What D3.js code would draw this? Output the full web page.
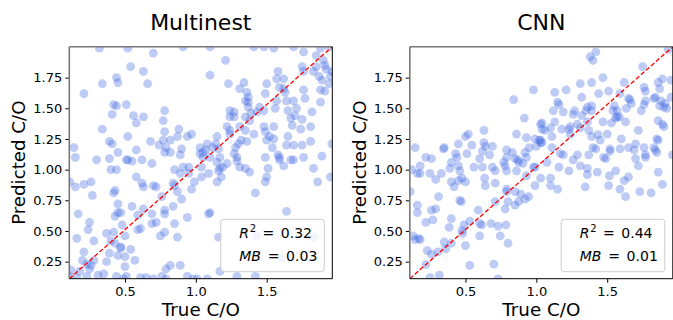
<!DOCTYPE html>
<html>
<head>
<meta charset="utf-8">
<script src="https://cdn.jsdelivr.net/npm/d3@7"></script>
<style>
  body { margin: 0; background: #fff; }
  svg { display: block; font-family: "DejaVu Sans", sans-serif; }
</style>
</head>
<body>
<svg width="673" height="320"></svg>
<script>
// [true C/O, predicted C/O]
const multinestPoints = [
  [0.32,1.99],[0.52,1.99],[0.70,1.95],[0.91,2.00],[1.10,2.00],[1.21,1.89],[0.54,1.84],[0.63,1.80],[0.44,1.75],[0.45,1.71],
  [0.34,1.70],[0.66,1.70],[0.21,1.62],[1.10,1.77],[0.42,1.53],[0.51,1.53],[0.41,1.45],[0.34,1.33],[0.78,1.48],[0.77,1.40],
  [0.63,1.43],[0.39,1.23],[0.41,1.21],[0.45,1.14],[0.30,1.08],[0.39,1.09],[0.40,1.00],[0.44,1.00],[0.51,1.08],[0.55,1.07],
  [0.62,1.08],[0.68,1.23],[0.69,1.05],[0.78,1.31],[0.77,1.24],[0.79,1.18],[0.82,1.24],[0.82,1.14],[0.88,1.33],[0.87,1.27],
  [0.90,1.17],[0.89,1.12],[0.94,1.27],[0.97,1.29],[0.95,1.02],[0.91,1.02],[0.95,0.97],[0.99,0.90],[1.03,1.13],[1.03,1.18],
  [1.05,1.10],[1.04,1.02],[1.05,1.14],[1.07,1.16],[1.08,1.21],[1.09,0.97],[1.10,1.10],[1.12,1.18],[1.14,1.21],[1.15,1.27],
  [1.15,1.06],[1.16,1.17],[1.17,1.10],[1.18,0.94],[1.22,1.35],[1.24,1.48],[1.24,1.43],[1.27,1.43],[1.24,1.29],[1.28,1.18],
  [1.29,1.10],[1.30,1.21],[1.31,1.02],[1.24,1.32],[1.31,1.35],[1.32,1.24],[1.35,1.43],[1.35,1.56],[1.37,1.51],[1.36,1.63],
  [1.37,1.55],[1.38,1.40],[1.39,1.46],[1.41,1.29],[1.35,1.32],[1.36,1.23],[1.43,1.47],[1.45,1.51],[1.48,1.48],[1.49,1.62],
  [1.50,1.70],[1.48,1.35],[1.49,1.31],[1.50,1.24],[1.52,1.27],[1.54,1.18],[1.55,1.25],[1.55,1.35],[1.56,1.50],[1.57,1.56],
  [1.58,1.80],[1.57,1.74],[1.59,1.67],[1.62,1.74],[1.62,1.66],[1.63,1.63],[1.64,1.56],[1.65,1.48],[1.67,1.42],[1.68,1.36],
  [1.69,1.56],[1.70,1.44],[1.71,1.50],[1.75,1.84],[1.76,1.80],[1.76,1.65],[1.77,1.58],[1.83,1.80],[1.85,1.84],[1.87,1.76],
  [1.89,1.73],[1.90,1.89],[1.91,1.85],[1.92,1.82],[1.94,1.70],[1.95,1.76],[1.96,1.80],[1.88,1.65],[1.91,1.64],[1.88,1.55],
  [1.82,1.47],[1.81,1.35],[1.75,1.41],[1.74,1.33],[1.75,1.20],[1.76,1.10],[1.64,1.20],[1.65,1.27],[1.67,1.08],[1.69,1.08],
  [1.59,1.10],[1.59,1.08],[1.58,1.12],[1.62,1.03],[1.49,1.10],[1.51,1.01],[1.50,0.94],[1.49,0.90],[1.42,0.81],[1.27,1.13],
  [1.29,1.07],[1.22,1.05],[1.19,1.02],[1.17,1.01],[1.16,0.99],[1.15,0.90],[1.10,0.65],[1.83,1.01],[1.86,0.90],[1.89,1.11],
  [1.95,0.94],[1.96,1.21],[1.35,1.01],[1.38,0.98],[1.81,1.23],[1.69,1.20],[1.64,0.66],
  [0.11,0.90],[0.15,0.86],[0.14,1.18],[0.15,1.10],[0.17,0.64],[0.16,0.44],[0.21,0.88],[0.26,0.90],[0.27,0.79],[0.25,0.57],
  [0.24,0.51],[0.28,0.42],[0.20,0.26],[0.23,0.23],[0.26,0.22],[0.25,0.19],[0.28,0.26],[0.21,0.33],[0.18,0.17],[0.12,0.18],
  [0.11,0.13],[0.16,0.12],[0.23,0.13],[0.31,0.14],[0.35,0.15],[0.37,0.25],[0.39,0.32],[0.40,0.42],[0.37,0.48],[0.42,0.49],
  [0.43,0.62],[0.45,0.65],[0.47,0.65],[0.45,0.72],[0.42,0.81],[0.43,0.83],[0.48,0.55],[0.50,0.46],[0.47,0.37],[0.47,0.36],
  [0.43,0.40],[0.45,0.30],[0.50,0.29],[0.50,0.21],[0.54,0.35],[0.57,0.26],[0.61,0.52],[0.59,0.51],[0.63,0.68],[0.59,0.63],
  [0.55,0.70],[0.58,0.94],[0.62,0.89],[0.63,0.86],[0.70,0.87],[0.72,0.86],[0.69,0.64],[0.69,0.56],[0.72,0.57],[0.75,0.46],
  [0.78,0.64],[0.78,0.67],[0.76,0.78],[0.84,0.70],[0.84,0.89],[0.85,0.87],[0.87,0.82],[0.89,0.97],[0.85,0.56],[0.87,0.45],
  [0.94,0.61],[0.90,0.76],[0.97,0.84],[1.04,0.94],[1.09,0.64],[0.79,0.19],[0.82,0.22],[0.89,0.22],[0.94,0.13],[1.01,0.11],
  [0.76,0.13],[0.79,0.11],[0.70,0.11],[0.65,0.12],[0.61,0.12],[0.51,0.13],[0.49,0.11],[0.44,0.13],[0.98,0.11],[1.08,0.11],
  [1.16,0.45],[1.17,0.17],[1.29,0.13],[1.43,0.46],[1.42,0.13],[1.83,0.45],[0.78,0.49],[0.58,1.16],[0.52,1.27],[0.44,1.52],
  [0.56,1.44],[0.58,1.38],[0.74,1.20],[0.78,1.14],[0.85,1.00],[0.52,1.08],[1.60,0.28],
  [1.41,2.00],[1.48,2.00],[1.55,1.99],[1.69,2.00],[1.88,1.99],[1.94,2.00],[1.76,1.96],[1.85,1.93],[1.23,1.70],[1.31,1.66],
  [1.34,1.71],[1.37,1.59],[1.27,1.47]
];

const cnnPoints = [
  [1.38,1.92],[1.42,1.96],[1.40,1.89],[1.93,1.98],[1.75,1.84],[1.47,1.75],[1.31,1.70],[1.39,1.71],[1.13,1.63],[1.21,1.65],
  [1.44,1.62],[1.51,1.64],[1.62,1.71],[1.59,1.62],[1.76,1.67],[1.77,1.64],[1.89,1.74],[1.86,1.71],[1.87,1.66],[1.95,1.73],
  [1.84,1.59],[1.95,1.59],[1.91,1.54],[1.90,1.51],[1.92,1.50],[1.15,1.55],[1.16,1.53],[1.12,1.48],[1.19,1.47],[1.27,1.48],
  [1.26,1.45],[1.32,1.59],[1.36,1.51],[1.35,1.48],[1.32,1.44],[1.39,1.48],[1.39,1.52],[1.55,1.52],[1.57,1.48],[1.54,1.48],
  [1.57,1.43],[1.585,1.43],[1.56,1.42],[1.635,1.50],[1.66,1.57],[1.65,1.58],[1.67,1.54],[1.74,1.48],[1.77,1.56],[1.76,1.53],
  [1.83,1.58],[1.87,1.52],[1.88,1.56],[1.86,1.40],[1.89,1.37],[1.90,1.35],[1.04,1.38],[1.13,1.39],[1.10,1.34],[1.06,1.32],
  [1.11,1.27],[1.18,1.33],[1.24,1.35],[1.24,1.29],[1.23,1.33],[1.29,1.37],[1.31,1.34],[1.36,1.39],[1.37,1.32],[1.39,1.27],
  [1.435,1.285],[1.47,1.39],[1.50,1.29],[1.53,1.38],[1.60,1.25],[1.63,1.39],[1.72,1.32],[1.85,1.25],[1.86,1.24],[1.03,1.24],
  [1.04,1.22],[1.11,1.18],[1.17,1.13],[1.19,1.12],[1.29,1.12],[1.37,1.12],[1.40,1.18],[1.42,1.17],[1.45,1.24],[1.475,1.10],
  [1.52,1.17],[1.52,1.15],[1.59,1.17],[1.65,1.18],[1.69,1.16],[1.70,1.21],[1.76,1.18],[1.77,1.12],[1.83,1.18],[1.84,1.16],
  [1.85,1.14],[1.96,1.12],
  [1.075,1.06],[1.16,1.02],[1.26,1.08],[1.23,0.99],[1.31,1.03],[1.36,1.01],[1.36,0.96],[1.43,0.98],[1.49,1.09],[1.515,0.95],
  [1.51,0.87],[1.56,0.99],[1.59,0.84],[1.62,0.91],[1.65,0.94],[1.63,0.78],[1.72,1.03],[1.70,1.09],[1.77,1.10],[1.86,0.98],
  [1.81,0.81],[1.89,0.88],[1.03,0.93],[1.10,0.93],[1.10,0.87],[1.15,0.84],[1.345,0.86],[1.73,0.82],
  [0.98,1.65],[0.84,1.57],[0.915,1.42],[1.03,1.37],[1.04,1.33],[0.86,1.29],[0.93,1.26],[0.99,1.25],[1.02,1.24],[1.03,1.22],
  [0.63,1.32],[0.63,1.22],[0.64,1.19],[0.62,1.15],[0.67,1.12],[0.69,1.19],[0.50,1.27],[0.52,1.29],[0.545,1.20],[0.45,1.21],
  [0.51,1.13],[0.43,1.13],[0.44,1.10],[0.345,1.17],[0.35,1.18],[0.145,1.18],[0.22,1.10],[0.26,1.09],[0.79,1.16],[0.83,1.14],
  [0.79,1.10],[0.92,1.14],[0.95,1.18],[1.00,1.19],[0.93,1.10],[0.87,1.08],
  [0.40,1.06],[0.45,1.03],[0.46,0.99],[0.39,1.01],[0.60,1.09],[0.62,1.02],[0.69,1.02],[0.78,1.03],[0.79,0.99],[0.86,0.99],
  [0.905,1.05],[0.875,1.06],[0.93,0.95],[0.98,1.02],[0.99,1.02],[0.99,0.87],[0.77,1.06],[0.85,1.09],[0.16,0.97],[0.18,0.97],
  [0.25,0.97],[0.33,0.97],[0.29,0.92],[0.40,0.90],[0.42,0.86],[0.45,0.91],[0.475,0.93],[0.50,0.90],[0.56,1.02],[0.635,0.93],
  [0.71,0.89],[0.79,0.84],[0.79,0.82],[0.85,0.82],[0.89,0.80],[0.92,0.76],[0.945,0.78],[0.875,0.74],[0.85,0.71],[0.80,0.74],
  [0.78,0.68],[0.71,0.74],[0.11,0.82],[0.16,0.71],[0.16,0.65],[0.29,0.68],[0.26,0.67],[0.22,0.57],[0.27,0.59],[0.31,0.78],
  [0.40,0.60],[0.385,0.53],[0.46,0.75],[0.47,0.74],[0.49,0.55],[0.475,0.505],[0.53,0.58],[0.59,0.67],[0.615,0.55],[0.60,0.46],
  [0.60,0.56],[0.68,0.56],[0.73,0.54],[0.785,0.55],[0.745,0.46],[0.80,0.40],[0.50,0.38],[0.48,0.48],[0.40,0.40],[0.35,0.41],
  [0.36,0.355],[0.305,0.33],[0.26,0.31],[0.23,0.34],[0.22,0.225],[0.17,0.44],[0.145,0.43],[0.13,0.46],[0.53,0.22],[0.70,0.23],
  [0.73,0.11],[0.315,0.14],[0.25,0.12],[0.71,0.99],[0.64,0.87],[0.12,1.00],[0.18,1.03],[0.18,0.43]
];

const panelTitles = ["Multinest", "CNN"];
const r2Labels = ["0.32", "0.44"];
const mbLabels = ["0.03", "0.01"];
const xTickValues = [0.5, 1.0, 1.5];
const yTickValues = [0.25, 0.50, 0.75, 1.00, 1.25, 1.50, 1.75];

const svg = d3.select("svg");
const panelW = 263, panelH = 232;
const panelLeft = [69.3, 409.8];
const panelTop = 46.7;

const x = d3.scaleLinear().domain([0.107, 1.963]).range([0, panelW]);
const y = d3.scaleLinear().domain([0.111, 2.002]).range([panelH, 0]);

const panels = [multinestPoints, cnnPoints];

panels.forEach((points, i) => {
  const g = svg.append("g").attr("transform", `translate(${panelLeft[i]},${panelTop})`);

  // clip so dots at the edges get cut like matplotlib does
  g.append("clipPath").attr("id", "clip" + i)
    .append("rect").attr("width", panelW).attr("height", panelH);

  const plot = g.append("g").attr("clip-path", `url(#clip${i})`);

  plot.selectAll("circle")
    .data(points)
    .enter().append("circle")
    .attr("cx", d => x(d[0]))
    .attr("cy", d => y(d[1]))
    .attr("r", 4.4)
    .attr("fill", "#4169e1")
    .attr("fill-opacity", 0.35);

  // 1:1 reference line, corner to corner
  const xd = x.domain(), yd = y.domain();
  plot.append("line")
    .attr("x1", x(xd[0])).attr("y1", y(yd[0]))
    .attr("x2", x(xd[1])).attr("y2", y(yd[1]))
    .attr("stroke", "red")
    .attr("stroke-width", 1.3)
    .attr("stroke-dasharray", "4.5,2.2");

  // --- axes ---
  const xAxis = g.append("g")
    .attr("transform", `translate(0,${panelH})`)
    .call(d3.axisBottom(x).tickValues(xTickValues).tickFormat(d3.format(".1f")).tickSize(4).tickPadding(4));
  const yAxis = g.append("g")
    .call(d3.axisLeft(y).tickValues(yTickValues).tickFormat(d3.format(".2f")).tickSize(4).tickPadding(3));

  [xAxis, yAxis].forEach(a => {
    a.select(".domain").remove();
    a.selectAll("text").attr("font-size", 13).attr("fill", "#000")
      .attr("font-family", '"DejaVu Sans", sans-serif');
    a.selectAll("line").attr("stroke", "#000");
  });

  // spines (top/left render greyish in the reference)
  g.append("line").attr("x1", 0).attr("x2", panelW).attr("y1", 0).attr("y2", 0)
    .attr("stroke", "#777").attr("stroke-width", 1.6);
  g.append("line").attr("x1", 0).attr("x2", 0).attr("y1", 0).attr("y2", panelH)
    .attr("stroke", "#777").attr("stroke-width", 1.6);
  g.append("line").attr("x1", 0).attr("x2", panelW).attr("y1", panelH).attr("y2", panelH)
    .attr("stroke", "#000").attr("stroke-width", 1);
  g.append("line").attr("x1", panelW).attr("x2", panelW).attr("y1", 0).attr("y2", panelH)
    .attr("stroke", "#000").attr("stroke-width", 1);

  // --- legend box with stats ---
  const leg = g.append("g").attr("transform", "translate(151.4,172.6)");
  leg.append("rect")
    .attr("width", 103.6).attr("height", 52.4)
    .attr("rx", 3).attr("ry", 3)
    .attr("fill", "#fff").attr("fill-opacity", 0.8)
    .attr("stroke", "#cccccc").attr("stroke-width", 1);

  // mathtext-like spacing around "="
  const t1 = leg.append("text").attr("x", 18.6).attr("y", 18.4).attr("font-size", 14).attr("fill", "#000");
  t1.append("tspan").attr("font-style", "italic").text("R");
  t1.append("tspan").attr("font-size", 10).attr("dy", -6).attr("dx", 0.8).text("2");
  t1.append("tspan").attr("dy", 6).attr("dx", 6.2).text("=");
  t1.append("tspan").attr("dx", 6.7).text(r2Labels[i]);

  const t2 = leg.append("text").attr("x", 18.6).attr("y", 41.7).attr("font-size", 14).attr("fill", "#000");
  t2.append("tspan").attr("font-style", "italic").text("MB");
  t2.append("tspan").attr("dx", 6.7).text("=");
  t2.append("tspan").attr("dx", 6.7).text(mbLabels[i]);

  // --- titles and labels ---
  g.append("text")
    .attr("x", panelW / 2).attr("y", -16.7)
    .attr("text-anchor", "middle")
    .attr("font-size", 22)
    .text(panelTitles[i]);

  g.append("text")
    .attr("x", panelW / 2).attr("y", 269.3)
    .attr("text-anchor", "middle")
    .attr("font-size", 18.3)
    .text("True C/O");

  g.append("text")
    .attr("transform", `translate(-44.3,${panelH / 2}) rotate(-90)`)
    .attr("text-anchor", "middle")
    .attr("font-size", 18.2)
    .text("Predicted C/O");
});
</script>
</body>
</html>
